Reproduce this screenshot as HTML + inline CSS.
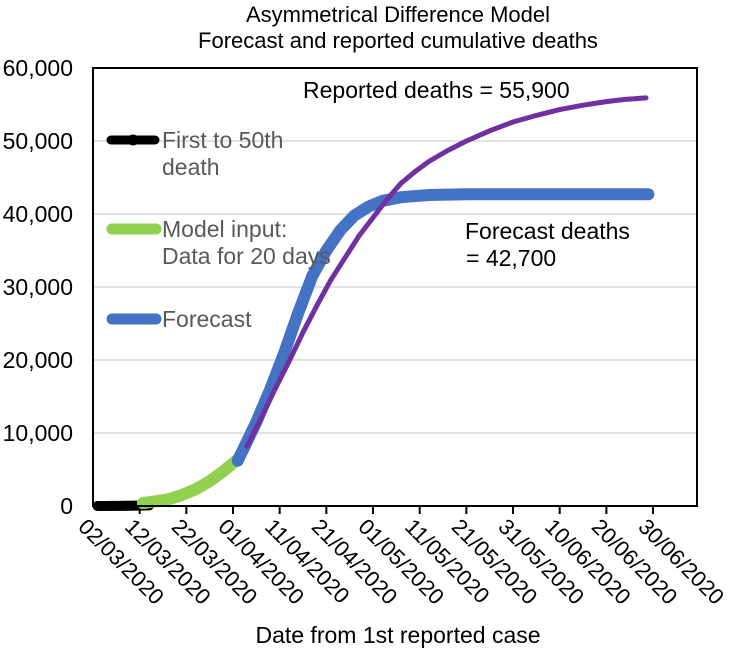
<!DOCTYPE html>
<html><head><meta charset="utf-8"><style>
body{margin:0;background:#fff;}
svg{display:block;font-family:"Liberation Sans",sans-serif;}
</style></head><body>
<svg id="chart" width="750" height="651" viewBox="0 0 750 651">
<text x="398" y="22" font-size="22" text-anchor="middle">Asymmetrical Difference Model</text>
<text x="398" y="48" font-size="22" text-anchor="middle">Forecast and reported cumulative deaths</text>
<g id="grid"></g>
<g id="yticks"></g>
<g id="xticks"></g>
<g id="series"></g>
<rect x="93" y="68" width="604" height="438" fill="none" stroke="#000" stroke-width="2"/>
<g>
 <line x1="111" y1="140" x2="155" y2="140" stroke="#000" stroke-width="9" stroke-linecap="round"/>
 <circle cx="133" cy="140" r="5.5" fill="#000"/>
 <text x="162" y="148" font-size="23" fill="#595959">First to 50th</text>
 <text x="162" y="175" font-size="23" fill="#595959">death</text>
 <line x1="112" y1="229" x2="156" y2="229" stroke="#92d050" stroke-width="11" stroke-linecap="round"/>
 <text x="162" y="237" font-size="23" fill="#595959">Model input:</text>
 <text x="162" y="264" font-size="23" fill="#595959">Data for 20 days</text>
 <line x1="112" y1="319" x2="156" y2="319" stroke="#4472c4" stroke-width="11" stroke-linecap="round"/>
 <text x="162" y="327" font-size="23" fill="#595959">Forecast</text>
</g>
<text x="303" y="98" font-size="23">Reported deaths = 55,900</text>
<text x="465" y="239" font-size="23">Forecast deaths</text>
<text x="466" y="266" font-size="23"> = 42,700</text>
<text x="398" y="643" font-size="23" text-anchor="middle">Date from 1st reported case</text>
</svg>
<script>
const yTicks = [0,10000,20000,30000,40000,50000,60000];
const xTickLabels = ["02/03/2020","12/03/2020","22/03/2020","01/04/2020","11/04/2020","21/04/2020","01/05/2020","11/05/2020","21/05/2020","31/05/2020","10/06/2020","20/06/2020","30/06/2020"];
const blackDays = [1,2,3,4,5,6,7,8,9,10,12];
const blackVals = [1,2,4,8,13,20,28,38,50,60,80];
const greenDays = [10.7,13,16,19,22,25,28,31];
const greenVals = [400,600,900,1500,2300,3400,4800,6400];
const blueDays = [31,32,35,38,41,44,47,50,53,56,59,62,66,72,80,100,119];
const blueVals = [6200,7500,11500,16000,21000,26500,31500,35000,37800,39800,41000,41800,42300,42600,42700,42700,42700];
const purpleDays = [33,36,39,42,45,48,51,54,57,60,63,66,69,72,76,80,85,90,95,100,105,110,114,118.5];
const purpleVals = [8200,12000,16000,19800,23800,27500,31000,34000,37000,39500,42000,44200,45800,47200,48700,50000,51400,52600,53500,54300,54900,55400,55700,55900];

const NS="http://www.w3.org/2000/svg";
const X0=93, PXDAY=4.667, Y0=506, YTOP=68, YMAX=60000;
const xs=d=>X0+d*PXDAY;
const ys=v=>Y0-v/YMAX*(Y0-YTOP);
function mk(tag,attrs,parent){const e=document.createElementNS(NS,tag);for(const k in attrs)e.setAttribute(k,attrs[k]);parent.appendChild(e);return e;}
const grid=document.getElementById('grid'), yt=document.getElementById('yticks'), xt=document.getElementById('xticks'), ser=document.getElementById('series');
yTicks.forEach(v=>{
  if(v>0&&v<YMAX){const g=mk('line',{x1:X0,x2:697,y1:ys(v),y2:ys(v),stroke:'#d9d9d9','stroke-width':1.5},grid);
  
  }
  const t=mk('text',{x:73,y:ys(v)+8,'font-size':23,'text-anchor':'end'},yt);
  t.textContent=v.toLocaleString('en-US');
  
  
});
xTickLabels.forEach((lab,i)=>{
  const x=xs(i*10);
  if(i>0){const tk=mk('line',{x1:x,x2:x,y1:Y0,y2:Y0+8,stroke:'#000','stroke-width':2},xt);
  
  }
  const t=mk('text',{transform:`translate(${x-4},${Y0+10}) rotate(45)`,x:0,y:17,'font-size':22},xt);
  t.textContent=lab;
  
  
});
function path(days,vals,color,w,name){
  const d=days.map((dd,i)=>(i?'L':'M')+xs(dd).toFixed(1)+','+ys(vals[i]).toFixed(1)).join(' ');
  const p=mk('path',{d,fill:'none',stroke:color,'stroke-width':w,'stroke-linecap':'round','stroke-linejoin':'round'},ser);
  
  
}
path(blackDays,blackVals,'#000',10,'first-50-deaths-line');
blackDays.forEach((dd,i)=>{const c=mk('circle',{cx:xs(dd),cy:ys(blackVals[i]),r:5},ser);
  
  });
path(greenDays,greenVals,'#92d050',12,'model-input-line');
path(blueDays,blueVals,'#4472c4',12,'forecast-line');
path(purpleDays,purpleVals,'#7030a0',5,'reported-deaths-line');
</script>
</body></html>
